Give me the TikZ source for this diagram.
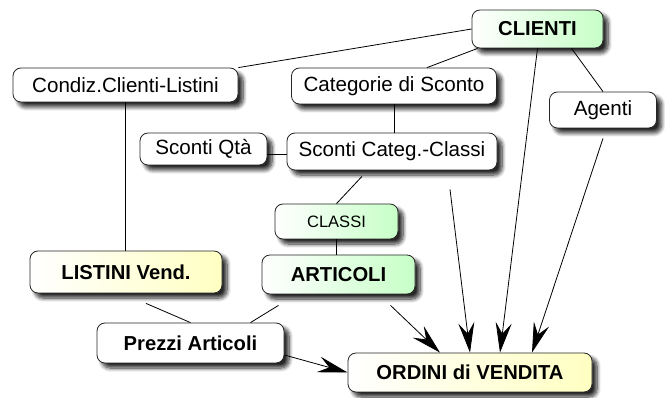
\documentclass[tikz,border=0pt]{standalone}
\usepackage{fontspec}
\setmainfont{Liberation Sans}
\usetikzlibrary{arrows.meta,shadows.blur,calc}
\begin{document}
\begin{tikzpicture}[x=1pt,y=-1pt,
  box/.style={draw=black!85, line width=0.8pt, rounded corners=8pt, fill=white, inner sep=0pt,
    font=\fontsize{20.6}{24}\selectfont,
    blur shadow={shadow xshift=5pt, shadow yshift=-5pt, shadow blur radius=4pt, shadow blur steps=8, shadow opacity=85}},
  gbox/.style={box, left color=white, right color=green!22},
  ybox/.style={box, left color=white, right color=yellow!24},
  bold/.style={font=\fontsize{20.2}{24}\selectfont\bfseries},
  sz/.style 2 args={minimum width=#1pt, minimum height=#2pt},
  conn/.style={draw=black, line width=0.8pt},
  arr/.style={conn, -{Stealth[length=30pt,width=16pt,inset=11pt]}}
]
\useasboundingbox (0,0) rectangle (665,398);

\node[gbox,bold,sz={131}{38}] (cli) at (537.5,29) {CLIENTI};
\node[box,sz={225}{34}] (condiz) at (125.5,85) {Condiz.Clienti-Listini};
\node[box,sz={205}{36}] (cat) at (394,86) {Categorie di Sconto};
\node[box,sz={107}{36}] (agenti) at (603,110) {Agenti};
\node[box,sz={127}{32}] (qta) at (203.5,149) {Sconti Qtà};
\node[box,sz={210}{37}] (sc) at (392,151.5) {Sconti Categ.-Classi};
\node[gbox,sz={123}{35},font=\fontsize{16.5}{19}\selectfont] (classi) at (336.5,221.5) {CLASSI};
\node[gbox,bold,sz={153}{39}] (art) at (338.5,274.5) {ARTICOLI};
\node[ybox,bold,sz={192}{42}] (listini) at (126,272) {LISTINI Vend.};
\node[box,bold,sz={187}{40}] (prezzi) at (190.5,343) {Prezzi Articoli};
\node[ybox,bold,sz={244}{39}] (ordini) at (470,372.5) {ORDINI di VENDITA};

% plain connectors
\draw[conn] (condiz.north east) -- (cli.west);
\draw[conn] ([xshift=33pt]cat.north) -- ([xshift=6pt]cli.south west);
\draw[conn] ([xshift=34pt]cli.south) -- (agenti.north);
\draw[conn] (condiz.south) -- (condiz.south |- listini.north);
\draw[conn] (cat.south) -- (cat.south |- sc.north);
\draw[conn] ([yshift=-5pt]qta.east) -- ([yshift=-5pt]qta.east -| sc.west);
\draw[conn] ([xshift=-30pt,yshift=-6pt]sc.south) -- (classi.north);
\draw[conn] (classi.south) -- (classi.south |- art.north);
\draw[conn] ([xshift=20pt,yshift=-10pt]listini.south) -- (prezzi.north);
\draw[conn] ([xshift=60pt]prezzi.north) -- ([xshift=-60pt,yshift=-11pt]art.south);

% arrows into ORDINI
\draw[arr] (cli.south) -- ([xshift=30pt]ordini.north);
\draw[arr] ([yshift=-10pt]agenti.south) -- ([xshift=62pt]ordini.north);
\draw[arr] ([xshift=58pt,yshift=-19pt]sc.south) -- (ordini.north);
\draw[arr] ([xshift=52pt,yshift=-11pt]art.south) -- ([xshift=-30pt]ordini.north);
\draw[arr] ([yshift=-12pt]prezzi.east) -- (ordini.west);
\end{tikzpicture}
\end{document}
